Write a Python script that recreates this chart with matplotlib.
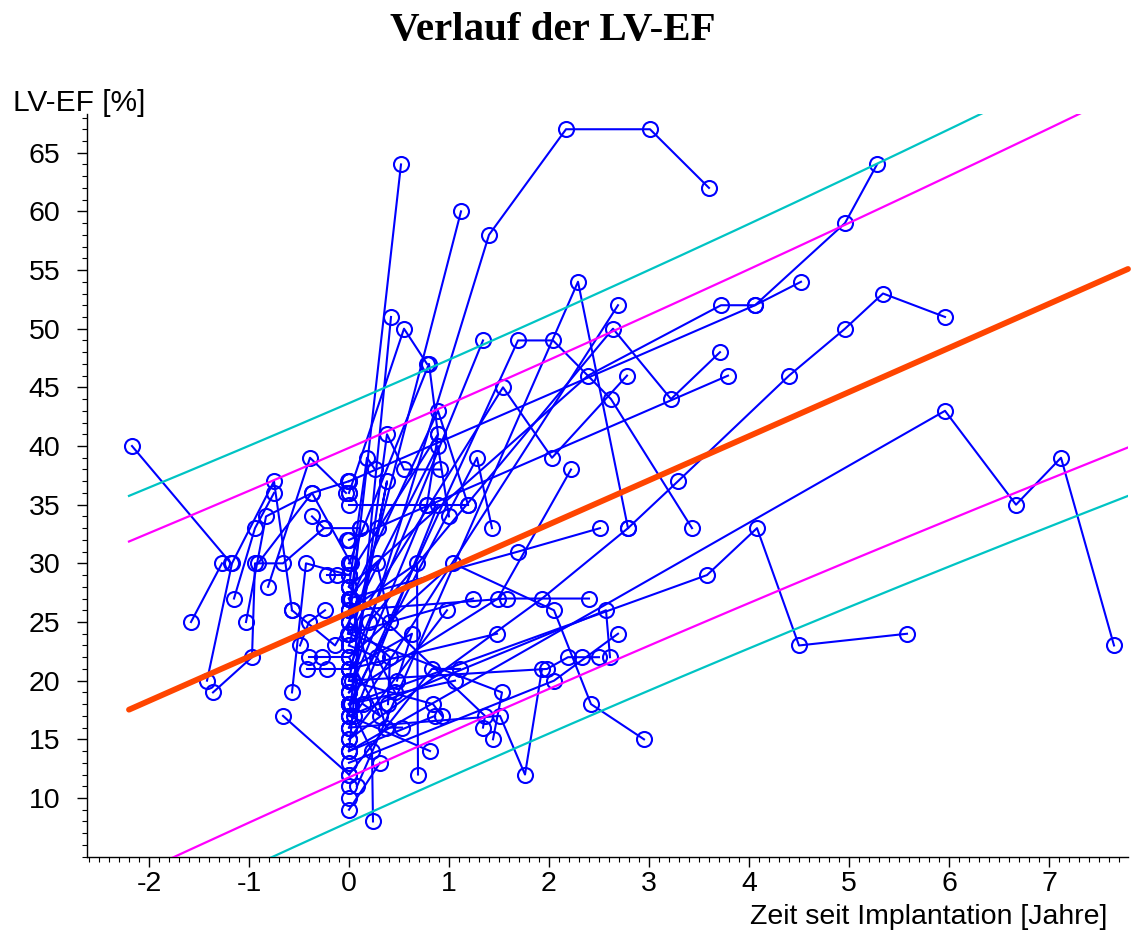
import matplotlib
matplotlib.use("Agg")
import matplotlib.pyplot as plt
import numpy as np
from matplotlib.ticker import MultipleLocator

plt.rcParams['font.family'] = ['Liberation Sans', 'DejaVu Sans']
plt.rcParams['axes.unicode_minus'] = False

# ---------------- data ----------------
# patients measured before implantation (time in years, LV-EF in %)
traj_pre = [
    ([-2.17, -1.18], [40, 30]),
    ([-1.58, -1.27], [25, 30]),
    ([-1.42, -1.17, -0.75, -0.57], [20, 30, 37, 26]),
    ([-1.36, -0.97, -0.94, -0.66, -0.25], [19, 22, 30, 30, 33]),
    ([-1.15, -0.94, -0.75], [27, 33, 36]),
    ([-1.03, -0.83, -0.37, 0.02], [25, 34, 36, 30]),
    ([-0.81, -0.39, -0.03], [28, 39, 36]),
    ([-0.66, 0.0], [17, 12]),
    ([-0.57, -0.43, 0.0], [19, 30, 29]),
    ([-0.49, -0.40, -0.24], [23, 25, 26]),
    ([-0.40, -0.27, 0.0], [22, 22, 22]),
    ([-0.42, -0.22, 0.0], [21, 21, 21]),
    ([-0.37, -0.25, 0.11], [34, 33, 33]),
    ([-0.22, -0.12, 0.0], [29, 29, 29]),
    ([-0.57, -0.14, 0.0], [26, 23, 25]),
    ([-0.91, -0.37, 0.0], [30, 36, 37]),
]

# patients with long follow-up
traj_long = [
    ([0.03, 1.40, 2.17, 3.01, 3.60], [20, 58, 67, 67, 62]),
    ([-0.01, 0.52], [24, 64]),
    ([0.0, 1.12], [23, 60]),
    ([0.0, 0.42], [14, 51]),
    ([0.0, 0.55, 0.78], [36, 50, 47]),
    ([0.0, 0.80, 0.89], [30, 47, 41]),
    ([0.08, 2.29, 2.79], [11, 54, 33]),
    ([0.0, 1.93, 2.79, 3.29, 4.40, 4.96, 5.34, 5.96], [15, 27, 33, 37, 46, 50, 53, 51]),
    ([0.0, 2.39, 3.72, 4.06, 4.52], [28, 46, 52, 52, 54]),
    ([0.0, 4.06, 4.96, 5.28], [37, 52, 59, 64]),
    ([0.2, 2.64, 3.22, 3.71], [25, 50, 44, 48]),
    ([0.0, 3.79], [32, 46]),
    ([0.05, 2.69], [17, 52]),
    ([0.0, 5.96, 6.67, 7.12, 7.65], [14, 43, 35, 39, 23]),
    ([0.0, 3.58, 4.08, 4.50, 5.58], [18, 29, 33, 23, 24]),
    ([0.0, 1.54, 2.03, 2.78], [24, 45, 39, 46]),
    ([0.0, 1.34], [21, 49]),
    ([0.02, 1.69, 2.04, 2.62, 3.43], [18, 49, 49, 44, 33]),
    ([0.0, 1.69, 2.51], [27, 31, 33]),
    ([0.0, 1.49, 2.22], [19, 27, 38]),
    ([0.0, 1.58, 2.40], [26, 27, 27]),
    ([0.0, 1.04, 2.05, 2.42, 2.95], [22, 30, 26, 18, 15]),
    ([0.0, 2.57, 2.61], [17, 26, 22]),
    ([0.0, 1.98, 2.19, 2.33, 2.50], [20, 21, 22, 22, 22]),
    ([0.0, 2.05, 2.69], [13, 20, 24]),
    ([0.0, 1.51, 1.76, 1.93], [16, 17, 12, 21]),
    ([0.0, 1.53, 1.44], [24, 19, 15]),
]

# patients with short follow-up
traj_short = [
    ([0.0, 0.18, 0.26], [28, 39, 38]),
    ([0.0, 0.38, 0.29], [20, 37, 33]),
    ([0.0, 0.38, 0.55, 0.91], [17, 41, 38, 38]),
    ([0.0, 0.89, 1.0], [25, 40, 34]),
    ([0.0, 0.78], [19, 35]),
    ([0.0, 0.89], [16, 35]),
    ([0.0, 1.28, 1.43], [18, 39, 33]),
    ([0.0, 0.28, 0.41], [27, 30, 25]),
    ([0.0, 0.68, 0.69], [26, 30, 12]),
    ([0.0, 1.24], [24, 27]),
    ([0.0, 0.98], [15, 26]),
    ([0.0, 0.63, 0.48], [21, 24, 20]),
    ([0.0, 0.28, 0.46], [23, 22, 19]),
    ([0.0, 0.41, 0.39], [25, 22, 18]),
    ([0.0, 0.83, 1.11], [12, 21, 21]),
    ([0.0, 1.06], [18, 20]),
    ([0.0, 0.31, 0.14], [22, 17, 18]),
    ([0.0, 0.84, 0.93], [20, 18, 17]),
    ([0.0, 0.86], [14, 17]),
    ([0.0, 0.37, 0.53], [27, 16, 16]),
    ([0.0, 1.36, 1.34], [28, 17, 16]),
    ([0.0, 0.81], [17, 14]),
    ([0.0, 0.23, 0.24], [18, 14, 8]),
    ([0.0, 0.31], [9, 13]),
    ([0.0, 1.48], [21, 24]),
    ([0.0, 0.11], [26, 33]),
    ([0.0, 0.89, 0.78], [29, 41, 35]),
    ([0.02, 0.89, 1.19], [27, 43, 35]),
    ([0.0, 1.19], [35, 35]),
]

# single baseline measurements
base_t = [0.0, 0.0, 0.0, -0.02, 0.0, -0.01, 0.0, 0.0]
base_ef = [10, 11, 16, 32, 36, 37, 19, 30]

# regression line and bands
fit_intercept = 25.8
fit_slope = 3.76
fit_range = (-2.2, 7.79)
band_inner = 14.0   # magenta
band_outer = 17.8   # cyan
band_center = 1.2
band_spread = 15.5

# ---------------- figure ----------------
W, H = 1138, 935
fig = plt.figure(figsize=(W / 100, H / 100), dpi=100)
ax = fig.add_axes([87 / W, 1 - 857 / H, (1128 - 87) / W, (857 - 114) / H])

blue = '#0000FF'
line_kw = dict(color=blue, lw=1.5, marker='o', ms=10.8, mfc='none', mec=blue, mew=1.5,
               zorder=2, clip_on=True)
for group in (traj_pre, traj_long, traj_short):
    for t, ef in group:
        ax.plot(t, ef, **line_kw)
ax.plot(base_t, base_ef, linestyle='none', marker='o', ms=10.8, mfc='none', mec=blue,
        mew=1.5, zorder=2)

xs = np.linspace(fit_range[0], fit_range[1], 200)
fit = fit_intercept + fit_slope * xs
widen = np.sqrt(1 + ((xs - band_center) / band_spread) ** 2)
for w, c in ((band_outer, '#00C4C4'), (band_inner, '#FF00FF')):
    ax.plot(xs, fit + w * widen, color=c, lw=1.6, zorder=3)
    ax.plot(xs, fit - w * widen, color=c, lw=1.6, zorder=3)
ax.plot(xs, fit, color='#FF4500', lw=4.2, solid_capstyle='round', zorder=4, clip_on=False)

ax.set_xlim(-2.62, 7.79)
ax.set_ylim(4.97, 68.3)
ax.xaxis.set_major_locator(MultipleLocator(1))
ax.xaxis.set_minor_locator(MultipleLocator(0.1))
ax.yaxis.set_minor_locator(MultipleLocator(1))
ax.set_yticks(np.arange(10, 66, 5))
ax.spines['top'].set_visible(False)
ax.spines['right'].set_visible(False)
ax.spines['left'].set_linewidth(1.0)
ax.spines['bottom'].set_linewidth(1.0)
ax.tick_params(axis='both', which='major', direction='out', length=7, width=1.0,
               labelsize=20.5, pad=3)
ax.tick_params(axis='y', which='major', pad=12)
ax.tick_params(axis='both', which='minor', direction='out', length=3.5, width=0.8)

fig.text(553 / W, 1 - 40 / H, 'Verlauf der LV-EF', ha='center', va='baseline',
         fontsize=29.5, fontweight='bold', family=['Liberation Serif', 'DejaVu Serif'])
fig.text(13 / W, 1 - 111 / H, 'LV-EF [%]', ha='left', va='baseline', fontsize=21.5)
fig.text(1107 / W, 1 - 924 / H, 'Zeit seit Implantation [Jahre]', ha='right', va='baseline',
         fontsize=20.5)

fig.savefig('out.png', dpi=100)
